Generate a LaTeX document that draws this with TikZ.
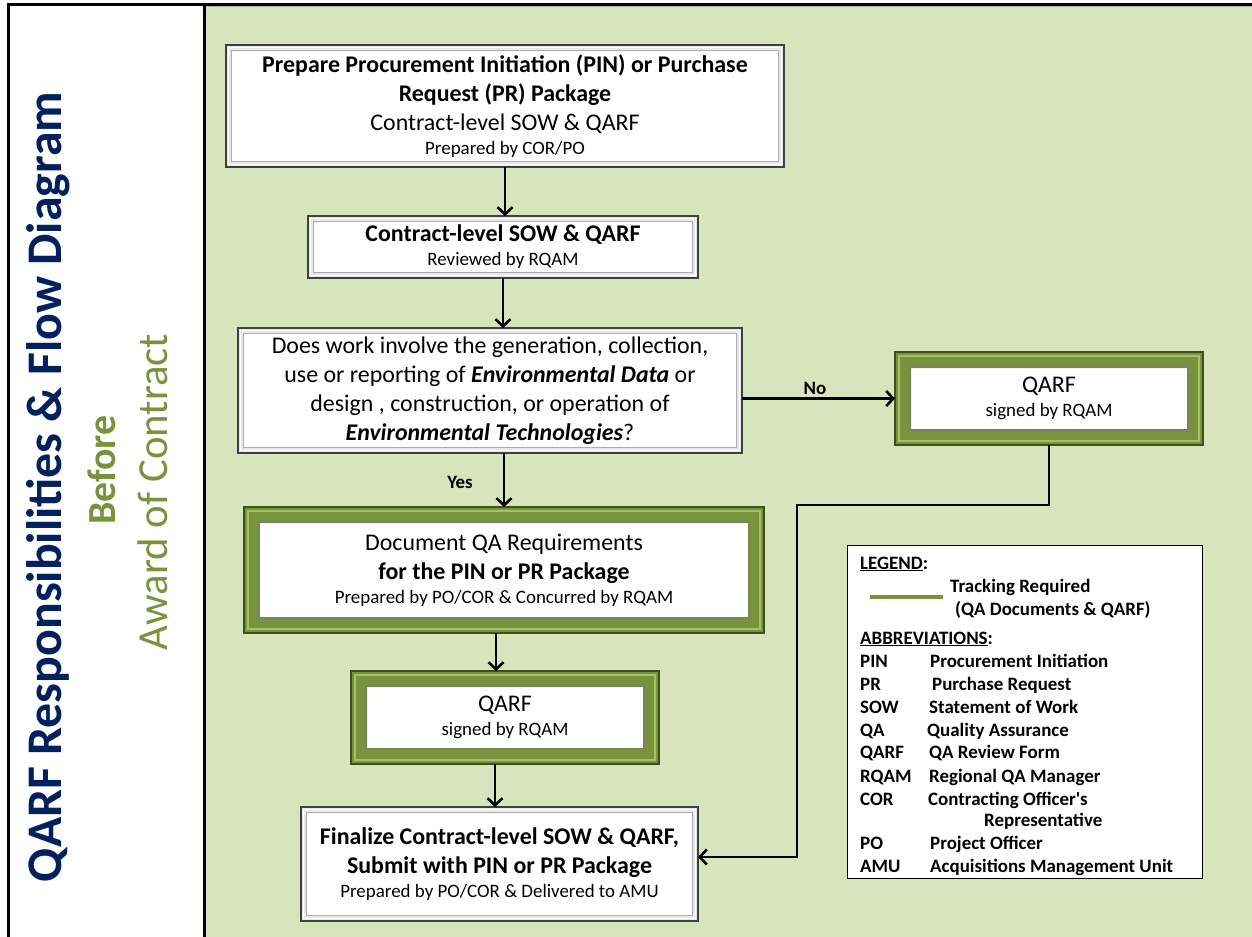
\documentclass[tikz,border=0pt]{standalone}
\usepackage{fontspec}
\setmainfont{Carlito}
\usetikzlibrary{arrows.meta,calc}

\definecolor{panelgreen}{HTML}{D8E4BC}
\definecolor{olive}{HTML}{77933C}
\definecolor{olivedark}{HTML}{3F4F1F}
\definecolor{olivelight}{HTML}{A6C267}
\definecolor{navy}{HTML}{002060}

% text sizes used in the boxes
\newcommand\maintxt{\fontsize{24}{29.3}\selectfont}
\newcommand\subline{\fontsize{19}{23}\selectfont}
\newcommand\legtxt{\fontsize{19}{23}\selectfont\bfseries}

% bevelled grey frame, 6bp wide, around a node whose outer sep is 6bp
\newcommand\grayframe[1]{%
  \fill[even odd rule, gray!18] (#1.north west) rectangle (#1.south east)
    ([shift={(6bp,-6bp)}]#1.north west) rectangle ([shift={(-6bp,6bp)}]#1.south east);
  \draw[white, line width=1.4bp] ([shift={(2.5bp,-2.5bp)}]#1.north west) rectangle ([shift={(-2.5bp,2.5bp)}]#1.south east);
  \draw[gray!65, line width=1bp] ([shift={(5.5bp,-5.5bp)}]#1.north west) rectangle ([shift={(-5.5bp,5.5bp)}]#1.south east);
  \draw[black!75, line width=1.3bp] (#1.north west) rectangle (#1.south east);
}
% bevelled olive frame, 16bp wide, around a node whose outer sep is 16bp
\newcommand\greenframe[1]{%
  \fill[even odd rule, olive] (#1.north west) rectangle (#1.south east)
    ([shift={(16bp,-16bp)}]#1.north west) rectangle ([shift={(-16bp,16bp)}]#1.south east);
  \draw[olivelight, line width=1.2bp] ([shift={(4bp,-4bp)}]#1.north west) rectangle ([shift={(-4bp,4bp)}]#1.south east);
  \draw[olivedark!70, line width=1.2bp] ([shift={(15bp,-15bp)}]#1.north west) rectangle ([shift={(-15bp,15bp)}]#1.south east);
  \draw[olivedark, line width=1.6bp] (#1.north west) rectangle (#1.south east);
}

\tikzset{
  graybox/.style={fill=white, draw=none, inner sep=0pt, outer sep=6bp,
    align=center, font=\maintxt},
  greenbox/.style={fill=white, draw=none, inner sep=0pt, outer sep=16bp,
    align=center, font=\maintxt},
  arr/.style={line width=2.6bp, black, -{Straight Barb[length=7bp,width=15bp]}},
  flowlabel/.style={font=\fontsize{19}{23}\selectfont\bfseries, inner sep=0pt},
  legline/.style={anchor=base west, inner sep=0pt, font=\legtxt},
}

\begin{document}
\begin{tikzpicture}[x=1bp, y=-1bp]
\useasboundingbox (0,0) rectangle (1252,937);

% page panels
\fill[white] (0,0) rectangle (1252,937);
\fill[panelgreen] (205,5) rectangle (1252,937);
\draw[line width=3bp] (8,940) -- (8,4) -- (1252,4);
\draw[line width=3bp] (204.5,4) -- (204.5,940);
\draw[gray!60, line width=1bp] (206,6.5) -- (1252,6.5);

% side heading
\node[rotate=90, anchor=base, inner sep=0pt, text=navy,
  font=\fontsize{50}{60}\selectfont\bfseries] (title) at (61,487)
  {QARF Responsibilities \& Flow Diagram};
\node[rotate=90, anchor=base, inner sep=0pt, text=olive,
  font=\fontsize{40}{48}\selectfont\bfseries] (before) at (115,470) {Before};
\node[rotate=90, anchor=base, inner sep=0pt, text=olive,
  font=\fontsize{43}{52}\selectfont] (award) at (167,492) {Award of Contract};

% process boxes
\node[graybox, minimum width=546bp, minimum height=110bp] (b1) at (505,106)
  {\textbf{Prepare Procurement Initiation (PIN) or Purchase}\\
   \textbf{Request (PR) Package}\\
   Contract-level SOW \& QARF\\[-5bp]
   {\subline Prepared by COR/PO}};
\node[graybox, minimum width=378bp, minimum height=50bp] (b2) at (503,247)
  {\textbf{Contract-level SOW \& QARF}\\[-5bp]
   {\subline Reviewed by RQAM}};
\node[graybox, minimum width=492bp, minimum height=113bp] (b3) at (490,390.5)
  {Does work involve the generation, collection,\\
   use or reporting of \textbf{\textit{Environmental Data}} or\\
   design , construction, or operation of\\
   \textbf{\textit{Environmental Technologies}}?};
\node[greenbox, minimum width=488bp, minimum height=94bp] (b4) at (504,570)
  {Document QA Requirements\\
   \textbf{for the PIN or PR Package}\\[-5bp]
   {\subline Prepared by PO/COR \& Concurred by RQAM}};
\node[greenbox, minimum width=276bp, minimum height=61bp] (b5) at (1049,398.5)
  {QARF\\[-5bp]{\subline signed by RQAM}};
\node[greenbox, minimum width=276bp, minimum height=61bp] (b6) at (505,717.5)
  {QARF\\[-5bp]{\subline signed by RQAM}};
\node[graybox, minimum width=385bp, minimum height=102bp] (b7) at (499.5,864)
  {\textbf{Finalize Contract-level SOW \& QARF,}\\
   \textbf{Submit with PIN or PR Package}\\[-5bp]
   {\subline Prepared by PO/COR \& Delivered to AMU}};

\grayframe{b1}
\grayframe{b2}
\grayframe{b3}
\greenframe{b4}
\greenframe{b5}
\greenframe{b6}
\grayframe{b7}

% connectors
\draw[arr] (b1.south) -- (b1.south |- b2.north);
\draw[arr] (b2.south) -- (b2.south |- b3.north);
\draw[arr] (b3.south -| b4.north) -- (b4.north);
\draw[arr] ([xshift=-8bp]b4.south) -- ([xshift=-8bp]b4.south |- b6.north);
\draw[arr] ([xshift=-10bp]b6.south) -- ([xshift=-10bp]b6.south |- b7.north);
\draw[arr] (b3.east |- b5.west) -- (b5.west);
\coordinate (turn1) at (797,505);
\coordinate (turn2) at (797,857);
\draw[arr] (b5.south) |- (turn1) -- (turn2) -- (turn2 -| b7.east);

\node[flowlabel] (yes) at (460,482) {Yes};
\node[flowlabel] (no) at (815,388) {No};

% legend
\node[draw=black, line width=1bp, fill=white, minimum width=355bp,
  minimum height=333bp, inner sep=0pt] (legend) at (1024.5,711.5) {};
\node[legline] (lg) at (860,569) {\underline{LEGEND}:};
\coordinate (ls) at (870,597);
\coordinate (le) at (943,597);
\draw[olive, line width=4bp] (ls) -- (le);
\node[legline] (lt1) at (950,592) {Tracking Required};
\node[legline] (lt2) at (955,615) {(QA Documents \& QARF)};
\node[legline] (lab) at (860,644) {\underline{ABBREVIATIONS}:};
\node[legline] (a1) at (860,667) {PIN};  \node[legline] (d1) at (930,667) {Procurement Initiation};
\node[legline] (a2) at (860,690) {PR};   \node[legline] (d2) at (932,690) {Purchase Request};
\node[legline] (a3) at (860,713) {SOW};  \node[legline] (d3) at (929,713) {Statement of Work};
\node[legline] (a4) at (860,736) {QA};   \node[legline] (d4) at (927,736) {Quality Assurance};
\node[legline] (a5) at (860,758) {QARF}; \node[legline] (d5) at (929,758) {QA Review Form};
\node[legline] (a6) at (860,782) {RQAM}; \node[legline] (d6) at (929,782) {Regional QA Manager};
\node[legline] (a7) at (860,805) {COR};  \node[legline] (d7) at (928,805) {Contracting Officer\textquotesingle s};
\node[legline] (d7b) at (984,826) {Representative};
\node[legline] (a8) at (860,849) {PO};   \node[legline] (d8) at (930,849) {Project Officer};
\node[legline] (a9) at (860,872) {AMU};  \node[legline] (d9) at (930,872) {Acquisitions Management Unit};
\end{tikzpicture}
\end{document}
